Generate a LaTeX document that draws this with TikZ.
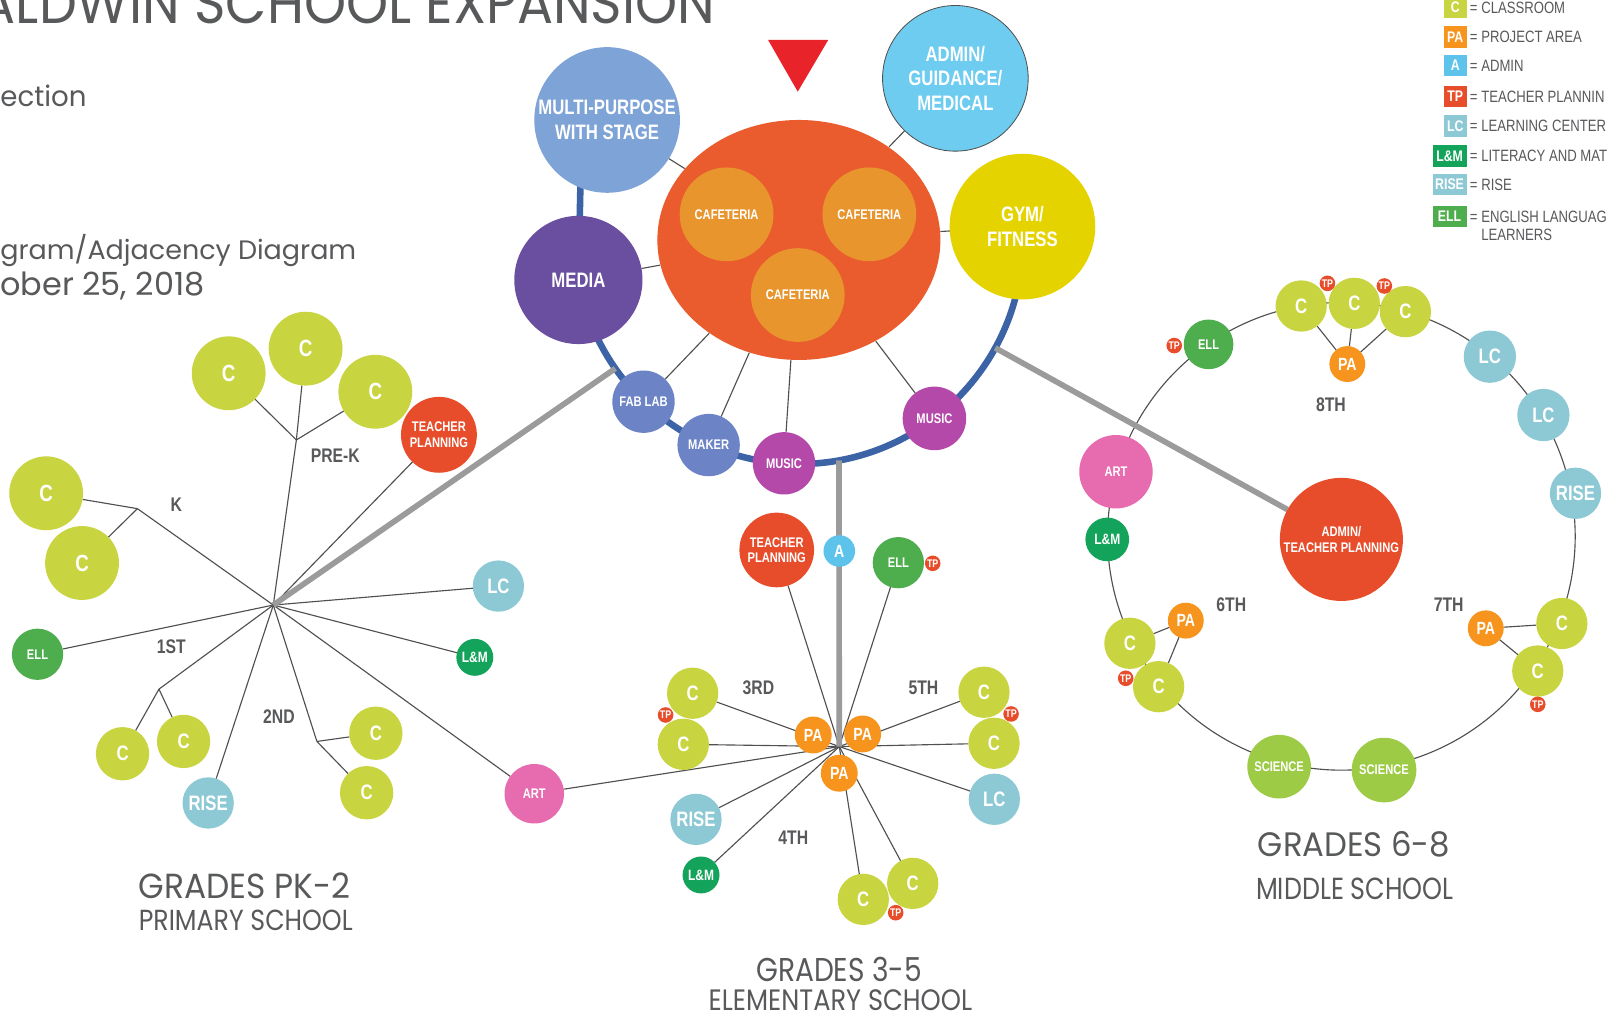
\documentclass[tikz,border=0pt]{standalone}
\usepackage{fontspec}
\usepackage{graphicx}
\setmainfont{Liberation Sans}
\newfontfamily\labf[FakeStretch=0.8]{Liberation Sans}
\newfontfamily\headf{Poppins}
\usetikzlibrary{shapes.geometric}
\pgfdeclarelayer{bg}
\pgfsetlayers{bg,main}
\newcommand\headtext[3]{\resizebox{#1pt}{#2pt}{\headf #3}}
\definecolor{txtG}{HTML}{58595B}
\definecolor{cC}{HTML}{C9D441}
\definecolor{cSci}{HTML}{9DCB45}
\definecolor{cPA}{HTML}{F7941E}
\definecolor{cTP}{HTML}{E84D2B}
\definecolor{cLC}{HTML}{8DC9D5}
\definecolor{cLM}{HTML}{14A35B}
\definecolor{cELL}{HTML}{4EAE4E}
\definecolor{cART}{HTML}{E66BAF}
\definecolor{cA}{HTML}{5EC3EA}
\definecolor{cMP}{HTML}{7EA3D6}
\definecolor{cADM}{HTML}{6DCCEF}
\definecolor{cGYM}{HTML}{E5D300}
\definecolor{cMED}{HTML}{6A4E9F}
\definecolor{cFAB}{HTML}{6C83C6}
\definecolor{cMUS}{HTML}{B449A9}
\definecolor{cCAF}{HTML}{EA5C2D}
\definecolor{cCAFin}{HTML}{E8952D}
\definecolor{cBlue}{HTML}{3D63A7}
\definecolor{cGray}{HTML}{9B9B9B}
\definecolor{cLine}{HTML}{505050}
\definecolor{cRed}{HTML}{E8232A}
\tikzset{
  bub/.style={circle, inner sep=0pt, outer sep=0pt, text=white, align=center},
  rad/.style={minimum size=#1pt},
  fXL/.style={font=\labf\bfseries\fontsize{11.4}{12}\selectfont},
  fL/.style={font=\labf\bfseries\fontsize{10.2}{12}\selectfont},
  fPA/.style={font=\labf\bfseries\fontsize{8.6}{9}\selectfont},
  fLM/.style={font=\labf\bfseries\fontsize{7.3}{8}\selectfont},
  fS/.style={font=\labf\bfseries\fontsize{6.8}{7.5}\selectfont},
  fTP/.style={font=\labf\bfseries\fontsize{5.4}{6}\selectfont},
  sCb/.style={bub, fill=cC, rad=36, fXL},
  sC/.style={bub, fill=cC, rad=25, fL},
  sPA/.style={bub, fill=cPA, rad=18, fPA},
  sTP/.style={bub, fill=cTP, rad=7.6, fTP},
  sLC/.style={bub, fill=cLC, rad=25, fL},
  sLM/.style={bub, fill=cLM, rad=18, fLM},
  sELL/.style={bub, fill=cELL, rad=25, fS},
  sART/.style={bub, fill=cART, rad=29, fS},
  sTPL/.style={bub, fill=cTP, rad=37, fS},
  sSCI/.style={bub, fill=cSci, rad=31, fS},
  glab/.style={font=\labf\bfseries\fontsize{9.6}{10}\selectfont, text=txtG, inner sep=0pt},
  head/.style={anchor=base west, inner sep=0pt, text=txtG},
  lgbox/.style={inner sep=0pt, text=white, minimum height=10.5pt, font=\labf\bfseries\fontsize{7.5}{8}\selectfont},
  lgtxt/.style={anchor=west, inner sep=0pt, text=txtG, font=\labf\fontsize{8}{9}\selectfont},
  ln/.style={draw=cLine, line width=0.55pt},
  gl/.style={draw=cGray, line width=2.75pt},
  bl/.style={draw=cBlue, line width=3.2pt}
}
\begin{document}
\begin{tikzpicture}[x=0.5pt, y=-0.5pt]
\useasboundingbox (0,0) rectangle (1568,998.5);
\clip (0,0) rectangle (1568,998.5);
\begin{pgfonlayer}{bg}
\fill[white] (0,0) rectangle (1568,998.5);
\end{pgfonlayer}

% ---------- titles ----------
\node[head] (title) at (-20,22.8) {\headtext{358.5}{20}{ALDWIN SCHOOL EXPANSION}};
\node[head] (sub1) at (0,104) {\headtext{42}{10.5}{ection}};
\node[head] (sub2) at (0,253.5) {\headtext{173.5}{12.25}{gram/Adjacency Diagram}};
\node[head] (sub3) at (0,287.7) {\headtext{99.5}{11.5}{ober 25, 2018}};

% ---------- legend ----------
\node[lgbox, fill=cC, minimum width=11pt] (lg1) at (1419,7.5) {C};
\node[lgbox, fill=cPA, minimum width=11pt] (lg2) at (1419,36) {PA};
\node[lgbox, fill=cA, minimum width=11pt] (lg3) at (1419,64) {A};
\node[lgbox, fill=cTP, minimum width=11pt] (lg4) at (1419,94) {TP};
\node[lgbox, fill=cLC, minimum width=11pt] (lg5) at (1419,123) {LC};
\node[lgbox, fill=cLM, minimum width=16.5pt] (lg6) at (1413.5,152) {L\&M};
\node[lgbox, fill=cLC, minimum width=16.5pt] (lg7) at (1413.5,180) {RISE};
\node[lgbox, fill=cELL, minimum width=16.5pt] (lg8) at (1413.5,211) {ELL};
\node[lgtxt] (lt1) at (1433,7.5) {= CLASSROOM};
\node[lgtxt] (lt2) at (1433,36) {= PROJECT AREA};
\node[lgtxt] (lt3) at (1433,64) {= ADMIN};
\node[lgtxt] (lt4) at (1433,94) {= TEACHER PLANNIN};
\node[lgtxt] (lt5) at (1433,123) {= LEARNING CENTER};
\node[lgtxt] (lt6) at (1433,152) {= LITERACY AND MAT};
\node[lgtxt] (lt7) at (1433,180) {= RISE};
\node[lgtxt] (lt8) at (1433,211) {= ENGLISH LANGUAG};
\node[lgtxt] (lt9) at (1444,229) {LEARNERS};

% ---------- central hub ----------
\fill[cRed] (749,39) -- (807.6,39) -- (777.9,89.4) -- cycle;
\node[ellipse, fill=cCAF, minimum width=138pt, minimum height=117pt, inner sep=0pt] (caf) at (779,234) {};
\node[bub, fill=cCAFin, rad=45.7, fS] (cf1) at (708.5,209) {CAFETERIA};
\node[bub, fill=cCAFin, rad=45.7, fS] (cf2) at (847.7,209) {CAFETERIA};
\node[bub, fill=cCAFin, rad=45.7, fS] (cf3) at (777.9,287.7) {CAFETERIA};
\node[bub, fill=cMP, rad=71, fL] (mp) at (592,117) {\raisebox{-2.75pt}{\shortstack{MULTI-PURPOSE\\[2.1pt]WITH STAGE}}};
\node[bub, fill=cADM, draw=cLine, line width=0.4pt, rad=71, fL] (adm) at (931.6,76.4) {ADMIN/\\GUIDANCE/\\MEDICAL};
\node[bub, fill=cGYM, rad=71, fL] (gym) at (997,221) {\raisebox{-5.25pt}{\shortstack{GYM/\\[2.1pt]FITNESS}}};
\node[bub, fill=cMED, rad=62.5, fL] (media) at (564,273) {MEDIA};
\node[bub, fill=cFAB, rad=30.4, fS] (fab) at (627.5,391.7) {FAB LAB};
\node[bub, fill=cFAB, rad=30.4, fS] (maker) at (691,434) {MAKER};
\node[bub, fill=cMUS, rad=30.4, fS] (musL) at (764.5,451.8) {MUSIC};
\node[bub, fill=cMUS, rad=31, fS] (musR) at (911.2,408) {MUSIC};
\path (779,234) ++(145:218.5) coordinate (aL);
\path (779,234) ++(79.7:218.5) coordinate (aB);
\path (779,234) ++(28.8:218.5) coordinate (aR);
\coordinate (mpb) at (566,180);

% ---------- grades PK-2 ----------
\coordinate (h1) at (266.5,590);
\coordinate (jpk) at (289,429);
\coordinate (jk) at (134,496);
\coordinate (j1) at (155,672);
\coordinate (j2) at (309,723);
\node[sCb] (pk1) at (223,364) {C};
\node[sCb] (pk2) at (298,340) {C};
\node[sCb] (pk3) at (366,382) {C};
\node[sTPL] (tpk) at (428,424) {TEACHER\\PLANNING};
\node[sCb] (k1) at (45,481) {C};
\node[sCb] (k2) at (80,549) {C};
\node[sLC] (lcA) at (486,571.5) {LC};
\node[sLM] (lmA) at (463,641) {L\&M};
\node[sELL] (ellA) at (36.6,638) {ELL};
\node[sC, rad=26] (c1a) at (119.5,735) {C};
\node[sC, rad=26] (c1b) at (179,723) {C};
\node[sLC] (riseA) at (203,783) {RISE};
\node[sC, rad=26] (c2a) at (366.5,715) {C};
\node[sC, rad=26] (c2b) at (357.5,773) {C};
\node[sART] (artA) at (521,774) {ART};
\node[glab] (lK) at (172,492) {K};
\node[glab] (lPK) at (327,444) {PRE-K};
\node[glab] (l1) at (167,631) {1ST};
\node[glab] (l2) at (272,699) {2ND};

% ---------- grades 3-5 ----------
\coordinate (h2) at (818.4,728);
\node[sTPL, rad=36.4] (tp35) at (757.4,536.3) {TEACHER\\PLANNING};
\node[bub, fill=cA, rad=15.4, fPA] (a35) at (818.4,537.3) {A};
\node[sELL] (ell35) at (876,548.7) {ELL};
\node[sTP] (tpe35) at (909.5,549.3) {TP};
\node[sC] (c3a) at (675.4,676) {C};
\node[sC] (c3b) at (666.3,725.8) {C};
\node[sTP] (tp3) at (649,697.2) {TP};
\node[sC] (c5a) at (959.5,675) {C};
\node[sC] (c5b) at (969.3,724.8) {C};
\node[sTP] (tp5) at (985.9,696.2) {TP};
\node[sLC] (lc35) at (969.6,779.4) {LC};
\node[sLC] (rise35) at (678.7,799) {RISE};
\node[sLM] (lm35) at (683.6,853.2) {L\&M};
\node[sC] (c4b) at (890,861.4) {C};
\node[sC] (c4a) at (841.8,877) {C};
\node[sTP] (tp4) at (873.4,890) {TP};
\node[sPA] (paL) at (793,716.7) {PA};
\node[sPA] (paR) at (841.2,715.7) {PA};
\node[sPA] (paB) at (818.4,754) {PA};
\node[glab] (l3) at (739.5,671) {3RD};
\node[glab] (l4) at (773.6,817) {4TH};
\node[glab] (l5) at (900.4,671) {5TH};

% ---------- grades 6-8 ----------
\coordinate (ringc) at (1308,523);
\node[bub, fill=cTP, rad=60, fS] (admtp) at (1308,526) {\raisebox{-3pt}{\shortstack{ADMIN/\\[0.3pt]TEACHER PLANNING}}};
\node[sELL, rad=24.2] (ell68) at (1178.5,335.8) {ELL};
\node[sTP] (tpe68) at (1145,337) {TP};
\node[sC] (c8a) at (1268.8,298.4) {C};
\node[sC] (c8b) at (1320.6,295.8) {C};
\node[sC] (c8c) at (1370.4,303.9) {C};
\node[sTP] (tp8a) at (1294.4,276.3) {TP};
\node[sTP] (tp8b) at (1349.9,278.9) {TP};
\node[sPA, rad=17.5] (pa8) at (1313.8,355) {PA};
\node[sLC, rad=25.5] (lc1) at (1452.8,347.8) {LC};
\node[sLC, rad=25.5] (lc2) at (1505,404.7) {LC};
\node[sLC] (rise68) at (1536.3,481) {RISE};
\node[sART, rad=35.8] (art68) at (1088.2,460) {ART};
\node[sLM, rad=21.3] (lm68) at (1079.7,526) {L\&M};
\node[sC] (c6a) at (1101.8,627.3) {C};
\node[sC] (c6b) at (1129.8,669.6) {C};
\node[sTP] (tp6) at (1097.7,661.4) {TP};
\node[sPA, rad=17.5] (pa6) at (1156.3,605.2) {PA};
\node[sC] (c7a) at (1523,608) {C};
\node[sC] (c7b) at (1499.5,654.3) {C};
\node[sTP] (tp7) at (1499.5,686.8) {TP};
\node[sPA, rad=17.5] (pa7) at (1448.8,612.7) {PA};
\node[sSCI] (sci1) at (1247.3,747.6) {SCIENCE};
\node[sSCI, rad=31.5] (sci2) at (1349.6,750.9) {SCIENCE};
\node[glab] (l6) at (1200.7,589.3) {6TH};
\node[glab] (l7) at (1412.6,589.3) {7TH};
\node[glab] (l8) at (1297.8,395) {8TH};

% ---------- headings ----------
\node[head] (hpk) at (135,876) {\headtext{103.25}{12.5}{GRADES PK-2}};
\node[head] (hpk2) at (135,907.5) {\headtext{104.25}{10}{PRIMARY SCHOOL}};
\node[head] (h35) at (737,956.6) {\headtext{80.85}{11.85}{GRADES 3-5}};
\node[head] (h352) at (690.7,985) {\headtext{128.4}{10.15}{ELEMENTARY SCHOOL}};
\node[head] (h68) at (1226.2,835.4) {\headtext{93.7}{12.2}{GRADES 6-8}};
\node[head] (h682) at (1224.5,877.6) {\headtext{96.25}{10.5}{MIDDLE SCHOOL}};

% ---------- connectors ----------
\begin{pgfonlayer}{bg}
\draw[ln] (caf) -- (mp);
\draw[ln] (caf) -- (media);
\draw[ln] (caf) -- (adm);
\draw[ln] (caf) -- (gym);
\draw[ln] (caf) -- (fab);
\draw[ln] (caf) -- (maker);
\draw[ln] (caf) -- (musL);
\draw[ln] (caf) -- (musR);
\draw[bl] (779,234) ++(0:218.5) arc[start angle=0, end angle=160, radius=218.5];
\draw[bl] (mpb) -- (media);
% PK-2
\draw[ln] (h1) -- (jpk);
\draw[ln] (jpk) -- (pk1);
\draw[ln] (jpk) -- (pk2);
\draw[ln] (jpk) -- (pk3);
\draw[ln] (h1) -- (tpk);
\draw[ln] (h1) -- (jk);
\draw[ln] (jk) -- (k1);
\draw[ln] (jk) -- (k2);
\draw[ln] (h1) -- (lcA);
\draw[ln] (h1) -- (lmA);
\draw[ln] (h1) -- (ellA);
\draw[ln] (h1) -- (j1);
\draw[ln] (j1) -- (c1a);
\draw[ln] (j1) -- (c1b);
\draw[ln] (h1) -- (riseA);
\draw[ln] (h1) -- (j2);
\draw[ln] (j2) -- (c2a);
\draw[ln] (j2) -- (c2b);
\draw[ln] (h1) -- (artA);
\draw[ln] (artA) -- (h2);
% 3-5
\foreach \n in {tp35,ell35,c3a,c3b,c5a,c5b,lc35,rise35,lm35,c4a,c4b}
  \draw[ln] (h2) -- (\n);
% 6-8
\draw[ln] (ringc) circle[radius=228];
\draw[ln] (pa8) -- (c8a);
\draw[ln] (pa8) -- (c8b);
\draw[ln] (pa8) -- (c8c);
\draw[ln] (pa6) -- (c6a);
\draw[ln] (pa6) -- (c6b);
\draw[ln] (pa7) -- (c7a);
\draw[ln] (pa7) -- (c7b);
% trunk lines
\draw[gl] (aL) -- (h1);
\draw[gl] (aB) -- (h2);
\draw[gl] (aR) -- (admtp);
\end{pgfonlayer}
\end{tikzpicture}
\end{document}
